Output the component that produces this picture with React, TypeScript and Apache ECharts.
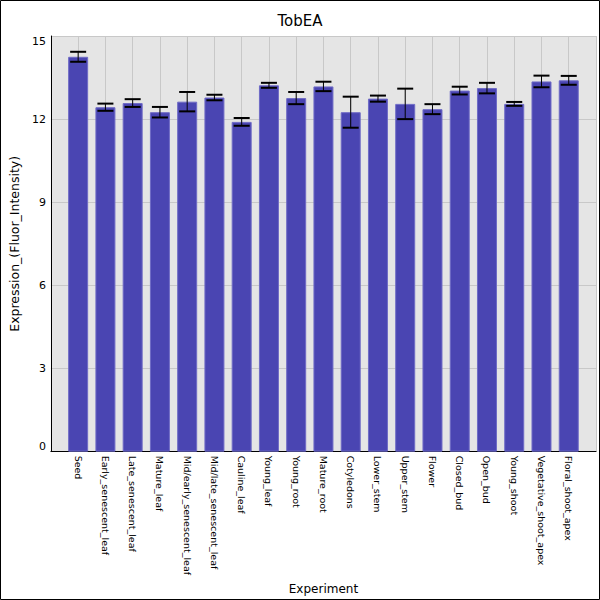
import React, { useEffect, useRef } from "react";
import * as echarts from "echarts";

const titleText = "TobEA";
const yAxisName = "Expression_(Fluor_Intensity)";
const xAxisName = "Experiment";

const categories = [
  "Seed",
  "Early_senescent_leaf",
  "Late_senescent_leaf",
  "Mature_leaf",
  "Mid/early_senescent_leaf",
  "Mid/late_senescent_leaf",
  "Cauline_leaf",
  "Young_leaf",
  "Young_root",
  "Mature_root",
  "Cotyledons",
  "Lower_stem",
  "Upper_stem",
  "Flower",
  "Closed_bud",
  "Open_bud",
  "Young_shoot",
  "Vegetative_shoot_apex",
  "Floral_shoot_apex",
];

const means = [
  14.25, 12.43, 12.58, 12.25, 12.63, 12.78, 11.9, 13.22, 12.76, 13.18,
  12.25, 12.74, 12.55, 12.36, 13.03, 13.12, 12.55, 13.36, 13.4,
];

const errors = [
  0.18, 0.13, 0.14, 0.19, 0.35, 0.1, 0.14, 0.09, 0.22, 0.17,
  0.56, 0.11, 0.55, 0.18, 0.14, 0.19, 0.07, 0.21, 0.16,
];

const yTicks = { min: 0, max: 15, interval: 3 };

export default function App() {
  const ref = useRef<HTMLDivElement>(null);

  useEffect(() => {
    if (!ref.current) return;
    const chart = echarts.init(ref.current, null, { renderer: "svg" });

    const axisCats = ["", ...categories, ""];
    const barData: any[] = ["-", ...means, "-"];
    const errData = means.map((m, i) => [i + 1, m - errors[i], m + errors[i]]);

    const font = "DejaVu Sans";

    chart.setOption({
      animation: false,
      backgroundColor: "#ffffff",
      textStyle: { fontFamily: font },
      title: {
        text: titleText,
        left: "center",
        top: 8,
        textStyle: { fontFamily: font, fontSize: 15, fontWeight: "normal", color: "#000" },
      },
      grid: {
        left: 50,
        right: 4,
        top: 36,
        bottom: 146,
        show: true,
        backgroundColor: "#e5e5e5",
        borderWidth: 0,
      },
      xAxis: {
        type: "category",
        data: axisCats,
        boundaryGap: false,
        name: xAxisName,
        nameLocation: "middle",
        nameGap: 125,
        nameTextStyle: { fontFamily: font, fontSize: 12, color: "#000" },
        axisLine: { show: true, lineStyle: { color: "#000", width: 1 } },
        axisTick: { show: false },
        splitLine: { show: true, interval: 0, lineStyle: { color: "#c8c8c8", width: 1 } },
        axisLabel: {
          interval: 0,
          rotate: -90,
          fontSize: 9.5,
          margin: 4,
          color: "#000",
          fontFamily: font,
        },
      },
      yAxis: {
        type: "value",
        min: yTicks.min,
        max: yTicks.max,
        interval: yTicks.interval,
        name: yAxisName,
        nameLocation: "middle",
        nameGap: 29,
        nameTextStyle: { fontFamily: font, fontSize: 12.5, color: "#000" },
        axisLine: { show: true, lineStyle: { color: "#000", width: 1 } },
        axisTick: { show: false },
        splitLine: { show: true, lineStyle: { color: "#c8c8c8", width: 1 } },
        axisLabel: {
          fontSize: 11,
          color: "#000",
          margin: 5,
          fontFamily: font,
          verticalAlignMinLabel: "bottom",
          verticalAlignMaxLabel: "top",
        },
      },
      series: [
        {
          type: "bar",
          data: barData,
          barWidth: 20,
          itemStyle: { color: "#4a45b2", borderColor: "#6f6bc6", borderWidth: 1 },
          z: 2,
        },
        {
          type: "custom",
          data: errData,
          z: 5,
          renderItem: (params: any, api: any) => {
            const x = api.value(0);
            const lo = api.coord([x, api.value(1)]);
            const hi = api.coord([x, api.value(2)]);
            const half = 8;
            const style = { stroke: "#000", lineWidth: 1 };
            const capStyle = { stroke: "#000", lineWidth: 2 };
            return {
              type: "group",
              children: [
                { type: "line", shape: { x1: lo[0], y1: lo[1], x2: hi[0], y2: hi[1] }, style },
                { type: "line", shape: { x1: lo[0] - half, y1: lo[1], x2: lo[0] + half, y2: lo[1] }, style: capStyle },
                { type: "line", shape: { x1: hi[0] - half, y1: hi[1], x2: hi[0] + half, y2: hi[1] }, style: capStyle },
              ],
            };
          },
        },
      ],
      graphic: [
        {
          type: "rect",
          shape: { x: 0.5, y: 0.5, width: 599, height: 599 },
          style: { fill: "none", stroke: "#000", lineWidth: 1 },
          z: 100,
        },
      ],
    });

    return () => chart.dispose();
  }, []);

  return (
    <div
      ref={ref}
      style={{ position: "absolute", left: 0, top: 0, width: 600, height: 600 }}
    />
  );
}
